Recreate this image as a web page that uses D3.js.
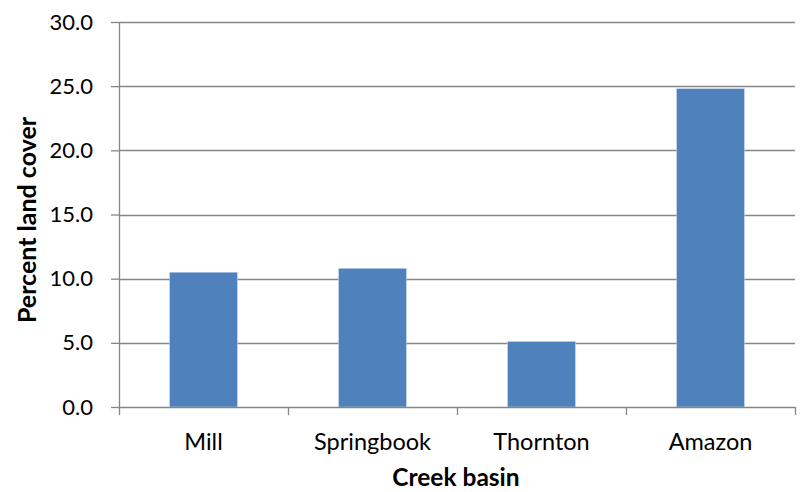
<!DOCTYPE html>
<html>
<head>
<meta charset="utf-8">
<script src="https://cdn.jsdelivr.net/npm/d3@7"></script>
<style>
  html, body { margin: 0; padding: 0; background: #fff; }
  svg { display: block; }
  text { font-family: Lato, "Open Sans", sans-serif; fill: #000; }
</style>
</head>
<body>
<svg id="chart" width="804" height="492"></svg>
<script>
// Percent land cover by creek basin
const basins = ["Mill", "Springbook", "Thornton", "Amazon"];
const landCover = [10.5, 10.8, 5.1, 24.8];
const yTicks = [0, 5, 10, 15, 20, 25, 30];

const svg = d3.select("#chart");
const margin = { left: 119, right: 9, top: 22, bottom: 85 };
const W = 804, H = 492;
const plotW = W - margin.left - margin.right;
const plotH = H - margin.top - margin.bottom;

const x = d3.scaleBand().domain(basins).range([0, plotW]).paddingInner(0.6).paddingOuter(0.3);
const xBand = d3.scaleBand().domain(basins).range([0, plotW]).padding(0);
const y = d3.scaleLinear().domain([0, 30]).range([plotH, 0]);

const g = svg.append("g").attr("transform", `translate(${margin.left},${margin.top})`);

const axisColor = "#868686";

// horizontal gridlines
g.append("g").selectAll("line").data(yTicks.filter(d => d > 0)).join("line")
  .attr("x1", 0).attr("x2", plotW)
  .attr("y1", d => Math.round(y(d)) + 0.5).attr("y2", d => Math.round(y(d)) + 0.5)
  .attr("stroke", axisColor).attr("stroke-width", 1.3);

// bars
g.append("g").selectAll("rect").data(basins).join("rect")
  .attr("x", d => x(d))
  .attr("width", x.bandwidth())
  .attr("y", (d, i) => y(landCover[i]))
  .attr("height", (d, i) => plotH - y(landCover[i]))
  .attr("fill", "#4F81BD")
  .attr("stroke", "#B9CDE5").attr("stroke-width", 0.6);

// y axis
const yAxis = d3.axisLeft(y).tickValues(yTicks).tickFormat(d3.format(".1f")).tickSize(8).tickPadding(18);
const yg = g.append("g").call(yAxis);
yg.select(".domain").attr("stroke", axisColor).attr("stroke-width", 1.3).attr("d", `M0.5,0V${plotH}`);
yg.selectAll(".tick line").attr("stroke", axisColor).attr("stroke-width", 1.3);
yg.selectAll(".tick text").attr("font-size", 22).attr("font-family", "Lato, sans-serif").attr("fill", "#000");

// x axis: ticks at category boundaries
const xg = g.append("g").attr("transform", `translate(0,${plotH})`);
xg.append("line").attr("x1", 0).attr("x2", plotW).attr("y1", 0.5).attr("y2", 0.5)
  .attr("stroke", axisColor).attr("stroke-width", 1.3);
const bounds = basins.map(d => xBand(d)).concat([plotW]);
xg.selectAll("line.tk").data(bounds).join("line").attr("class", "tk")
  .attr("x1", d => d + 0.5).attr("x2", d => d + 0.5).attr("y1", 0).attr("y2", 8)
  .attr("stroke", axisColor).attr("stroke-width", 1.3);
xg.selectAll("text").data(basins).join("text")
  .attr("x", d => xBand(d) + xBand.bandwidth() / 2)
  .attr("y", 43)
  .attr("text-anchor", "middle")
  .attr("font-size", 23.5)
  .text(d => d);

// axis titles
svg.append("text")
  .attr("x", margin.left + plotW / 2 - 1)
  .attr("y", 486)
  .attr("text-anchor", "middle")
  .attr("font-size", 24.5).attr("font-weight", "bold")
  .text("Creek basin");

svg.append("text")
  .attr("transform", `translate(36,220) rotate(-90)`)
  .attr("text-anchor", "middle")
  .attr("font-size", 25).attr("font-weight", "bold")
  .text("Percent land cover");
</script>
</body>
</html>
